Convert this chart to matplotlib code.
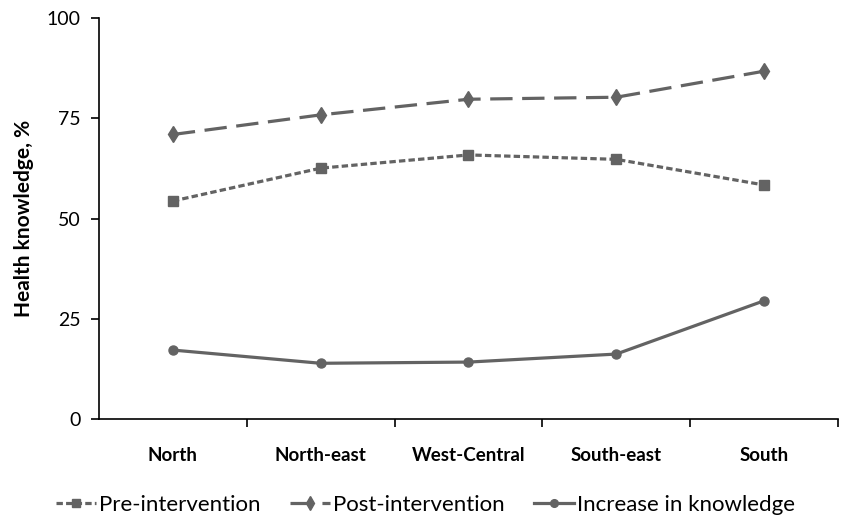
import matplotlib
matplotlib.use("Agg")
import matplotlib.pyplot as plt
import numpy as np

regions = ["North", "North-east", "West-Central", "South-east", "South"]
pre_intervention = [54.4, 62.6, 65.9, 64.8, 58.4]
post_intervention = [71.0, 75.9, 79.8, 80.3, 86.8]
increase_knowledge = [17.2, 13.9, 14.2, 16.2, 29.5]
y_ticks = [0, 25, 50, 75, 100]

plt.rcParams['font.family'] = ['Lato', 'DejaVu Sans']

fig = plt.figure(figsize=(8.46, 5.17), dpi=100)
ax = fig.add_axes([0.117, 0.1896, 0.8735, 0.775])

col = "#636363"
x = np.arange(len(regions))
lw = 2.3
ax.plot(x, pre_intervention, color=col, lw=lw, linestyle=(0, (2.0, 1.0)),
        marker="s", markersize=6.5, label="Pre-intervention")
ax.plot(x, post_intervention, color=col, lw=lw, linestyle=(0, (7, 3)),
        marker="d", markersize=8, label="Post-intervention")
ax.plot(x, increase_knowledge, color=col, lw=lw, linestyle="-",
        marker="o", markersize=6.5, label="Increase in knowledge")

ax.set_xlim(-0.5, len(regions) - 0.5)
ax.set_ylim(0, 100)
ax.set_yticks(y_ticks)
ax.set_yticklabels([str(t) for t in y_ticks], fontsize=14)
ax.set_xticks(np.arange(0.5, len(regions), 1.0))
ax.set_xticklabels([])
ax.set_xticks(x, minor=True)
ax.set_xticklabels(regions, minor=True, fontsize=13.5, fontweight="bold")
ax.tick_params(axis="x", which="minor", length=0, pad=20)
ax.tick_params(axis="x", which="major", length=6, width=1.2, direction="out")
ax.tick_params(axis="y", length=6, width=1.2, direction="out", pad=7)
ax.set_ylabel("Health knowledge, %", fontsize=15, fontweight="bold", labelpad=9)

for s in ["top", "right"]:
    ax.spines[s].set_visible(False)
for s in ["left", "bottom"]:
    ax.spines[s].set_linewidth(1.2)

fig.legend(loc="lower center", bbox_to_anchor=(0.503, -0.035), ncol=3, frameon=False,
           fontsize=16, handlelength=1.8, handletextpad=0.15, columnspacing=1.3,
           markerscale=0.85)

fig.savefig("out.png", dpi=100)
